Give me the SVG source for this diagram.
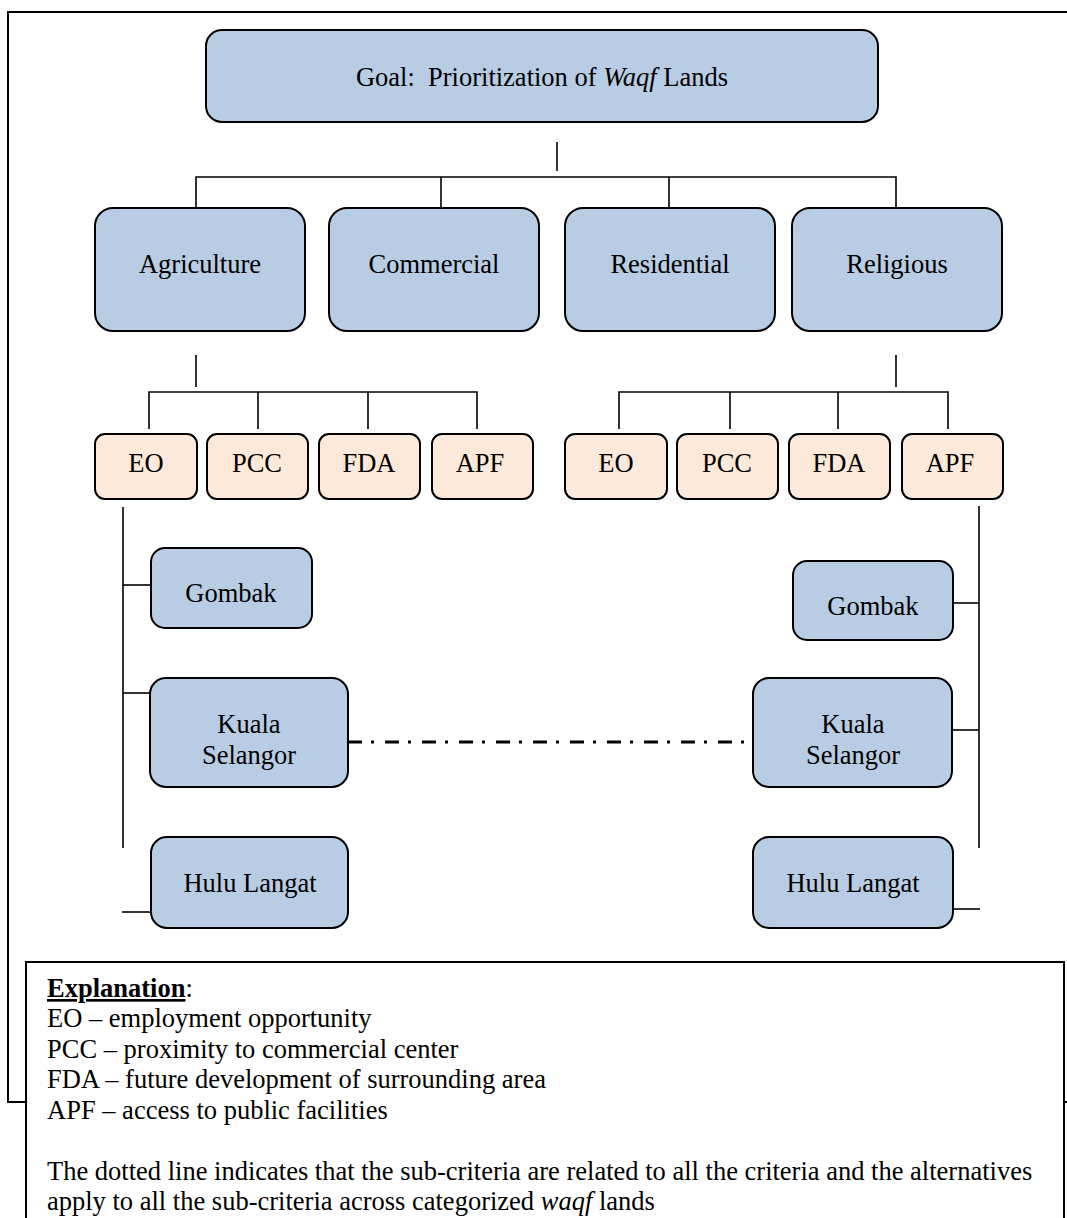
<svg xmlns="http://www.w3.org/2000/svg" width="1067" height="1218" viewBox="0 0 1067 1218">
<style>
.t{font-family:"Liberation Serif","Times New Roman",serif;font-size:26.5px;fill:#000}
.c{text-anchor:middle}
.b{fill:#B8CCE4;stroke:#000;stroke-width:2}
.p{fill:#FDE9D9;stroke:#000;stroke-width:2}
.ln{stroke:#000;stroke-width:1.6;fill:none}
</style>
<rect x="8" y="12" width="1070" height="1090" fill="#fff" stroke="#000" stroke-width="2"/>
<g id="connectors" class="ln">
<line x1="557" y1="142" x2="557" y2="171"/>
<polyline points="196,208 196,177 896,177 896,208"/>
<line x1="441" y1="177" x2="441" y2="208"/>
<line x1="669" y1="177" x2="669" y2="208"/>
<line x1="196" y1="355" x2="196" y2="387"/>
<polyline points="149,429 149,392 477,392 477,429"/>
<line x1="258" y1="392" x2="258" y2="429"/>
<line x1="368" y1="392" x2="368" y2="429"/>
<line x1="896" y1="355" x2="896" y2="387"/>
<polyline points="619,429 619,392 948,392 948,429"/>
<line x1="730" y1="392" x2="730" y2="429"/>
<line x1="838" y1="392" x2="838" y2="429"/>
<line x1="123" y1="507" x2="123" y2="848"/>
<line x1="123" y1="585" x2="151" y2="585"/>
<line x1="123" y1="693" x2="150" y2="693"/>
<line x1="122" y1="912" x2="151" y2="912"/>
<line x1="979" y1="506" x2="979" y2="848"/>
<line x1="953" y1="603" x2="979" y2="603"/>
<line x1="952" y1="730" x2="979" y2="730"/>
<line x1="953" y1="909" x2="980" y2="909"/>
<line x1="348" y1="742" x2="753" y2="742" stroke-width="3" stroke-dasharray="14 9 3 11"/>
</g>
<g id="goal"><rect class="b" x="206" y="30" width="672" height="92" rx="16"/><text class="t c" x="542" y="86">Goal:&#160; Prioritization of <tspan font-style="italic">Waqf</tspan> Lands</text></g>
<g id="agriculture"><rect class="b" x="95" y="208" width="210" height="123" rx="18"/><text class="t c" x="200" y="273">Agriculture</text></g>
<g id="commercial"><rect class="b" x="329" y="208" width="210" height="123" rx="18"/><text class="t c" x="434" y="273">Commercial</text></g>
<g id="residential"><rect class="b" x="565" y="208" width="210" height="123" rx="18"/><text class="t c" x="670" y="273">Residential</text></g>
<g id="religious"><rect class="b" x="792" y="208" width="210" height="123" rx="18"/><text class="t c" x="897" y="273">Religious</text></g>
<g id="eo-l"><rect class="p" x="95" y="434" width="102" height="65" rx="10"/><text class="t c" x="146" y="472">EO</text></g>
<g id="pcc-l"><rect class="p" x="207" y="434" width="101" height="65" rx="10"/><text class="t c" x="257" y="472">PCC</text></g>
<g id="fda-l"><rect class="p" x="319" y="434" width="101" height="65" rx="10"/><text class="t c" x="369" y="472">FDA</text></g>
<g id="apf-l"><rect class="p" x="432" y="434" width="101" height="65" rx="10"/><text class="t c" x="480" y="472">APF</text></g>
<g id="eo-r"><rect class="p" x="565" y="434" width="102" height="65" rx="10"/><text class="t c" x="616" y="472">EO</text></g>
<g id="pcc-r"><rect class="p" x="677" y="434" width="101" height="65" rx="10"/><text class="t c" x="727" y="472">PCC</text></g>
<g id="fda-r"><rect class="p" x="789" y="434" width="101" height="65" rx="10"/><text class="t c" x="839" y="472">FDA</text></g>
<g id="apf-r"><rect class="p" x="902" y="434" width="101" height="65" rx="10"/><text class="t c" x="950" y="472">APF</text></g>
<g id="gombak-l"><rect class="b" x="151" y="548" width="161" height="80" rx="14"/><text class="t c" x="231" y="602">Gombak</text></g>
<g id="kuala-l"><rect class="b" x="150" y="678" width="198" height="109" rx="16"/><text class="t c" x="249" y="733">Kuala</text><text class="t c" x="249" y="764">Selangor</text></g>
<g id="hulu-l"><rect class="b" x="151" y="837" width="197" height="91" rx="16"/><text class="t c" x="250" y="892">Hulu Langat</text></g>
<g id="gombak-r"><rect class="b" x="793" y="561" width="160" height="79" rx="14"/><text class="t c" x="873" y="615">Gombak</text></g>
<g id="kuala-r"><rect class="b" x="753" y="678" width="199" height="109" rx="16"/><text class="t c" x="853" y="733">Kuala</text><text class="t c" x="853" y="764">Selangor</text></g>
<g id="hulu-r"><rect class="b" x="753" y="837" width="200" height="91" rx="16"/><text class="t c" x="853" y="892">Hulu Langat</text></g>
<g id="explanation">
<rect x="26" y="962" width="1038" height="280" fill="#fff" stroke="#000" stroke-width="2"/>
<text class="t" x="47" y="997"><tspan font-weight="bold" text-decoration="underline">Explanation</tspan>:</text>
<text class="t" x="47" y="1027">EO – employment opportunity</text>
<text class="t" x="47" y="1058">PCC – proximity to commercial center</text>
<text class="t" x="47" y="1088">FDA – future development of surrounding area</text>
<text class="t" x="47" y="1119">APF – access to public facilities</text>
<text class="t" x="47" y="1180">The dotted line indicates that the sub-criteria are related to all the criteria and the alternatives</text>
<text class="t" x="47" y="1210">apply to all the sub-criteria across categorized <tspan font-style="italic">waqf</tspan> lands</text>
</g>
</svg>
